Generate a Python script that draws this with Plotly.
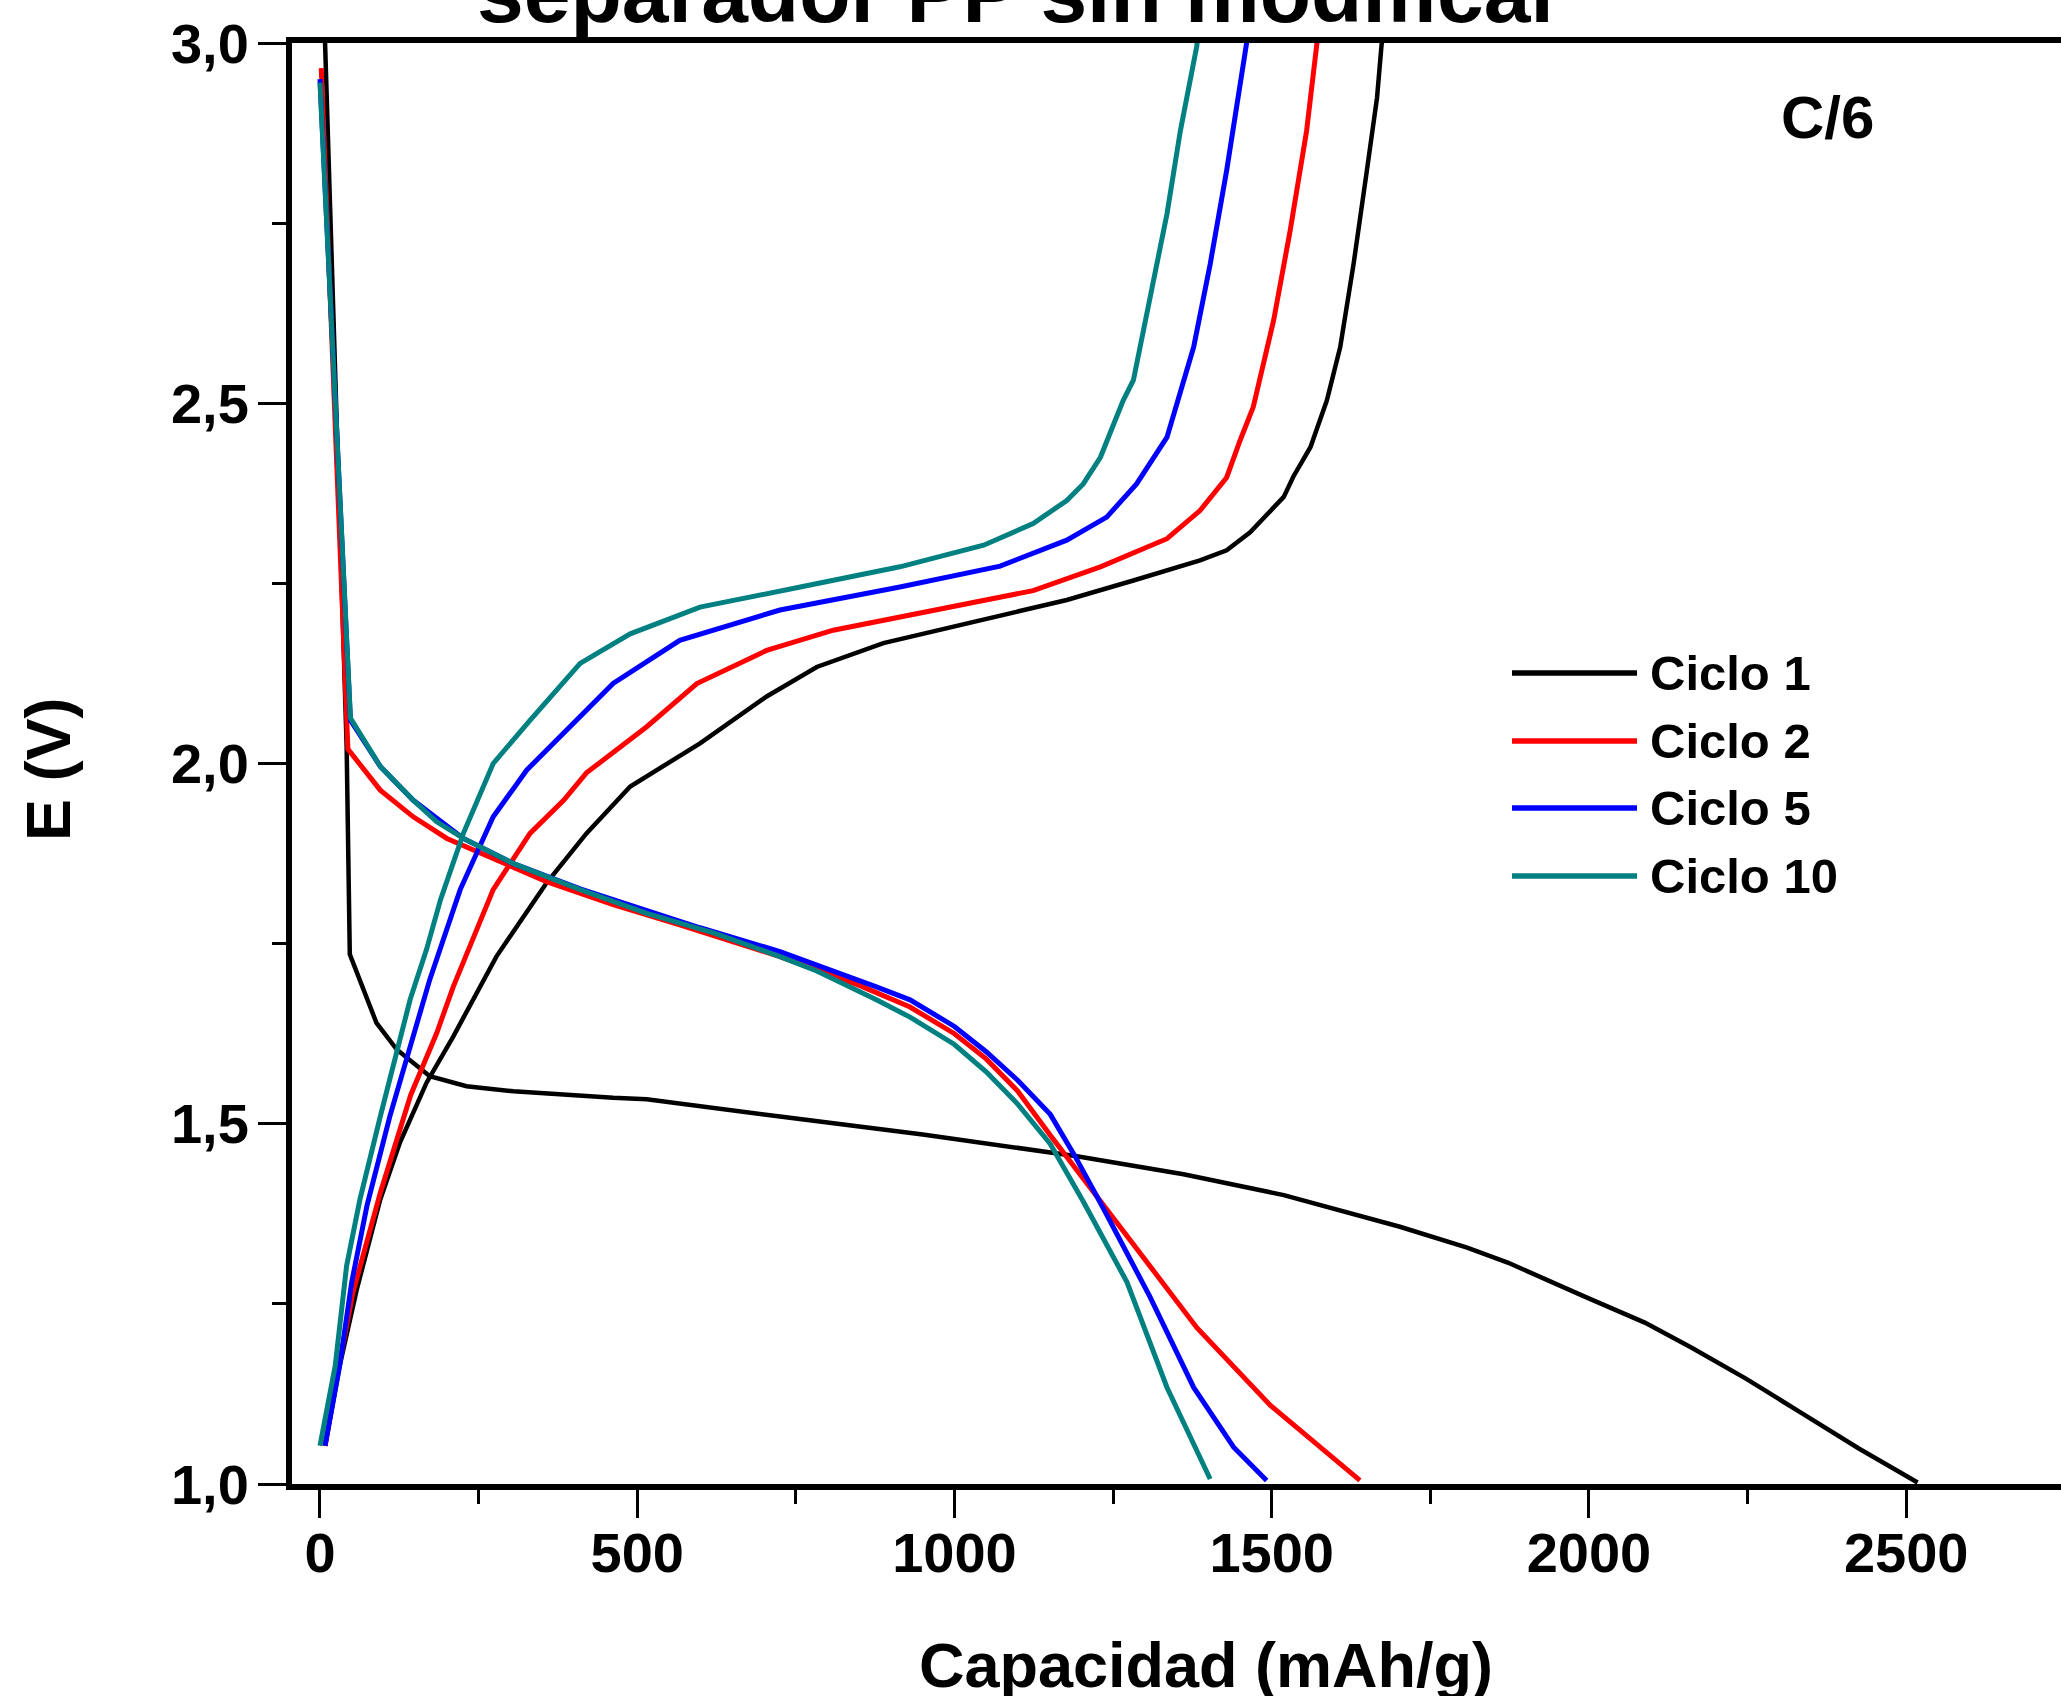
import plotly.graph_objects as go

# ---------------- data (capacity mAh/g, potential V) ----------------
c1_dis_x = [8, 42, 47, 89, 121, 173, 231, 305, 462, 515, 725, 950, 1193, 1361, 1519, 1702, 1808, 1873, 1996, 2088, 2162, 2248, 2334, 2426, 2518]
c1_dis_y = [3.0, 2.024, 1.735, 1.640, 1.603, 1.566, 1.552, 1.545, 1.536, 1.534, 1.510, 1.485, 1.455, 1.430, 1.401, 1.357, 1.328, 1.307, 1.259, 1.224, 1.189, 1.146, 1.099, 1.049, 1.002]
c1_chg_x = [8, 30, 58, 95, 126, 168, 210, 242, 278, 357, 420, 489, 599, 704, 783, 888, 1019, 1177, 1282, 1387, 1429, 1466, 1519, 1534, 1561, 1587, 1608, 1629, 1650, 1666, 1673, 1676]
c1_chg_y = [1.053, 1.16, 1.270, 1.395, 1.474, 1.557, 1.621, 1.672, 1.732, 1.834, 1.903, 1.968, 2.028, 2.093, 2.134, 2.167, 2.194, 2.227, 2.254, 2.282, 2.296, 2.321, 2.370, 2.398, 2.439, 2.504, 2.578, 2.693, 2.823, 2.924, 2.996, 3.02]

c2_dis_x = [2, 44, 95, 147, 200, 252, 305, 357, 462, 567, 725, 850, 930, 1000, 1050, 1100, 1151, 1230, 1308, 1382, 1498, 1639]
c2_dis_y = [2.965, 2.020, 1.963, 1.926, 1.896, 1.876, 1.857, 1.836, 1.804, 1.776, 1.732, 1.692, 1.662, 1.625, 1.590, 1.545, 1.484, 1.392, 1.304, 1.217, 1.109, 1.005]
c2_chg_x = [8, 30, 52, 95, 143, 184, 210, 273, 331, 384, 420, 515, 594, 704, 809, 967, 1124, 1230, 1335, 1387, 1429, 1450, 1471, 1503, 1529, 1555, 1571, 1574]
c2_chg_y = [1.053, 1.165, 1.266, 1.404, 1.540, 1.626, 1.690, 1.825, 1.903, 1.949, 1.987, 2.051, 2.111, 2.157, 2.185, 2.213, 2.240, 2.273, 2.312, 2.351, 2.397, 2.448, 2.495, 2.615, 2.739, 2.878, 2.996, 3.02]

c5_dis_x = [0, 48, 95, 147, 226, 305, 410, 515, 599, 725, 783, 877, 930, 1000, 1050, 1100, 1151, 1190, 1235, 1308, 1377, 1440, 1492]
c5_dis_y = [2.95, 2.060, 1.996, 1.949, 1.896, 1.861, 1.826, 1.795, 1.772, 1.739, 1.721, 1.690, 1.672, 1.635, 1.600, 1.560, 1.513, 1.455, 1.382, 1.260, 1.134, 1.051, 1.005]
c5_chg_x = [8, 31, 50, 74, 110, 137, 173, 221, 273, 326, 384, 462, 567, 725, 914, 1072, 1177, 1240, 1287, 1335, 1377, 1403, 1429, 1461, 1464]
c5_chg_y = [1.053, 1.164, 1.280, 1.386, 1.510, 1.594, 1.700, 1.825, 1.926, 1.991, 2.042, 2.111, 2.171, 2.213, 2.245, 2.274, 2.310, 2.342, 2.388, 2.453, 2.578, 2.693, 2.823, 2.996, 3.02]

c10_dis_x = [0, 48, 95, 147, 184, 226, 305, 410, 515, 620, 725, 783, 877, 930, 1000, 1050, 1100, 1151, 1203, 1272, 1335, 1370, 1403]
c10_dis_y = [2.945, 2.063, 1.996, 1.949, 1.919, 1.896, 1.861, 1.825, 1.792, 1.765, 1.732, 1.712, 1.672, 1.648, 1.610, 1.572, 1.527, 1.472, 1.392, 1.280, 1.134, 1.070, 1.007]
c10_chg_x = [0, 24, 42, 63, 95, 121, 142, 168, 190, 226, 273, 331, 410, 489, 599, 757, 914, 1046, 1124, 1177, 1203, 1230, 1266, 1282, 1308, 1335, 1356, 1382, 1384]
c10_chg_y = [1.053, 1.164, 1.303, 1.395, 1.510, 1.603, 1.672, 1.742, 1.811, 1.903, 2.000, 2.060, 2.139, 2.180, 2.217, 2.245, 2.273, 2.303, 2.333, 2.365, 2.388, 2.425, 2.504, 2.532, 2.647, 2.763, 2.878, 2.996, 3.02]

series_names = ["Ciclo 1", "Ciclo 2", "Ciclo 5", "Ciclo 10"]
series_colors = ["#000000", "#FF0000", "#0000FF", "#008080"]
series_widths = [4.5, 5, 5, 5]

x_tickvals = [0, 500, 1000, 1500, 2000, 2500]
x_ticktext = ["0", "500", "1000", "1500", "2000", "2500"]
y_tickvals = [1.0, 1.5, 2.0, 2.5, 3.0]
y_ticktext = ["1,0", "1,5", "2,0", "2,5", "3,0"]

title_text = "separador PP sin modificar"
x_title = "Capacidad (mAh/g)"
y_title = "E (V)"
rate_text = "C/6"

# ---------------- figure ----------------
W, H = 2061, 1696
ML, MR, MT, MB = 292, 0, 43, 212
PW = W - ML - MR
PH = H - MT - MB

def px(xp):
    return (xp - ML) / PW

def py(yp):
    return (H - MB - yp) / PH

FONT = "Liberation Sans, Arial, Helvetica, sans-serif"

curves = [
    (c1_dis_x, c1_dis_y, c1_chg_x, c1_chg_y),
    (c2_dis_x, c2_dis_y, c2_chg_x, c2_chg_y),
    (c5_dis_x, c5_dis_y, c5_chg_x, c5_chg_y),
    (c10_dis_x, c10_dis_y, c10_chg_x, c10_chg_y),
]

fig = go.Figure()
for (dx, dy, cx, cy), name, col, w in zip(curves, series_names, series_colors, series_widths):
    fig.add_trace(go.Scatter(x=dx, y=dy, mode="lines", name=name,
                             line=dict(color=col, width=w), showlegend=False))
    fig.add_trace(go.Scatter(x=cx, y=cy, mode="lines", name=name,
                             line=dict(color=col, width=w), showlegend=False))

fig.update_layout(
    width=W, height=H,
    margin=dict(l=ML, r=MR, t=MT, b=MB, pad=0),
    paper_bgcolor="white", plot_bgcolor="white",
    font=dict(family=FONT, color="black", size=56, weight="bold"),
    showlegend=False,
)

fig.update_xaxes(
    range=[-44.1, 2744], showgrid=False, zeroline=False,
    showline=True, linewidth=6, linecolor="black", mirror=True,
    ticks="outside", ticklen=28, tickwidth=3, tickcolor="black",
    tickmode="array", tickvals=x_tickvals, ticktext=x_ticktext,
    ticklabelstandoff=-13,
    tickfont=dict(family=FONT, size=56, color="black", weight="bold"),
    minor=dict(ticks="outside", ticklen=14, tickwidth=3, tickcolor="black",
               tick0=250, dtick=500, showgrid=False),
)
fig.update_yaxes(
    range=[1.0, 3.0], showgrid=False, zeroline=False,
    showline=True, linewidth=6, linecolor="black", mirror=False,
    ticks="outside", ticklen=28, tickwidth=3, tickcolor="black",
    tickmode="array", tickvals=y_tickvals, ticktext=y_ticktext,
    ticklabelstandoff=-2,
    tickfont=dict(family=FONT, size=56, color="black", weight="bold"),
    minor=dict(ticks="outside", ticklen=14, tickwidth=3, tickcolor="black",
               tick0=1.25, dtick=0.5, showgrid=False),
)

annotations = []
annotations.append(dict(text=title_text, xref="paper", yref="paper",
                        x=px(1020), y=py(-7), xanchor="center", yanchor="middle",
                        showarrow=False, font=dict(family=FONT, size=84, color="black", weight="bold")))
annotations.append(dict(text=x_title, xref="paper", yref="paper",
                        x=px(1206), y=py(1665), xanchor="center", yanchor="middle",
                        showarrow=False, font=dict(family=FONT, size=63, color="black", weight="bold")))
annotations.append(dict(text=y_title, xref="paper", yref="paper",
                        x=px(48), y=py(769), xanchor="center", yanchor="middle", textangle=-90,
                        showarrow=False, font=dict(family=FONT, size=63, color="black", weight="bold")))
annotations.append(dict(text=rate_text, xref="paper", yref="paper",
                        x=px(1827), y=py(118), xanchor="center", yanchor="middle",
                        showarrow=False, font=dict(family=FONT, size=60, color="black", weight="bold")))

legend_rows = [673, 741, 808, 876]
shapes = []
for name, col, yr in zip(series_names, series_colors, legend_rows):
    shapes.append(dict(type="line", xref="paper", yref="paper",
                       x0=px(1512), x1=px(1637), y0=py(yr), y1=py(yr),
                       line=dict(color=col, width=5.5)))
    annotations.append(dict(text=name, xref="paper", yref="paper",
                            x=px(1648), y=py(yr), xanchor="left", yanchor="middle",
                            showarrow=False, font=dict(family=FONT, size=49, color="black", weight="bold")))

fig.update_layout(annotations=annotations, shapes=shapes)

fig.write_html(
    "out.html",
    config={"displayModeBar": False},
    post_script="document.body.style.margin='0px';document.body.style.overflow='hidden';",
)
